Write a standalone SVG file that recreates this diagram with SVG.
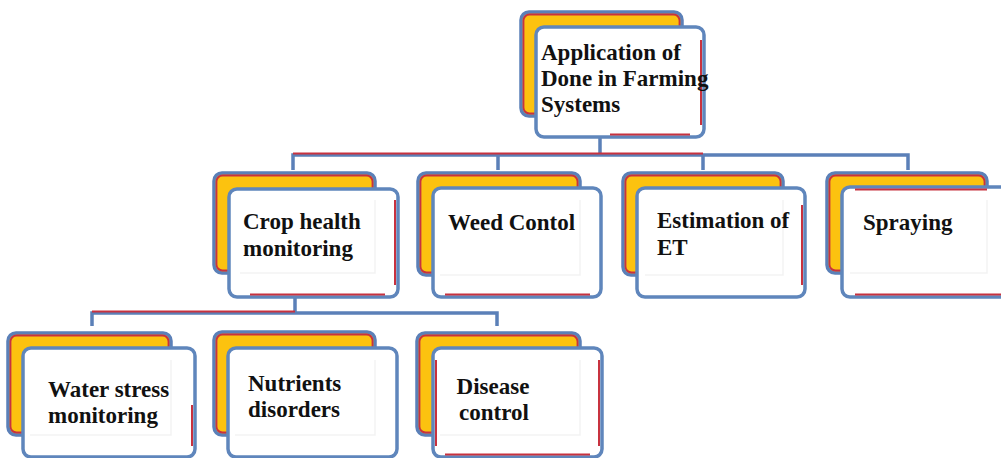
<svg xmlns="http://www.w3.org/2000/svg" width="1001" height="458" viewBox="0 0 1001 458">
  <style>
    .back{fill:#FCC20F;stroke:#5B80B8;stroke-width:3.5}
    .backin{fill:none;stroke:#C8323F;stroke-width:1.8}
    .front{fill:#fff;stroke:#5F86BC;stroke-width:3.5}
    .shade{fill:none;stroke:#F3F3F3;stroke-width:1.5}
    .acc{fill:none;stroke:#C8323F;stroke-width:2}
    .lbl{font-family:"Liberation Serif","Times New Roman",serif;font-weight:bold;font-size:23px;fill:#111}
    .wire{fill:none;stroke:#5B80B8;stroke-width:3.5}
    .wire-red{fill:none;stroke:#C8323F;stroke-width:2}
  </style>
  <rect width="1001" height="458" fill="#fff"/>

  <!-- connectors -->
  <g id="connectors">
    <path class="wire" d="M600 137 V155 M293 170 V155 H908 V170 M498 155 V170 M703 155 V170"/>
    <path class="wire-red" d="M293 153.5 H703"/>
    <path class="wire" d="M295 297 V313 M92 326 V313 H497 V326"/>
    <path class="wire-red" d="M92 311.5 H295"/>
  </g>

  <!-- root -->
  <g id="node-root">
    <rect class="back" x="521" y="12" width="161" height="104" rx="8"/>
    <rect class="backin" x="523.5" y="14.5" width="156" height="99" rx="6"/>
    <rect class="front" x="536" y="27" width="168" height="110" rx="8"/>
    <path class="acc" d="M701 40 V125 M610 134.5 H690"/>
    <text class="lbl" x="541" y="60">Application of</text>
    <text class="lbl" x="541" y="86">Done in Farming</text>
    <text class="lbl" x="541" y="112">Systems</text>
  </g>

  <!-- second level -->
  <g id="node-crop">
    <rect class="back" x="214" y="173" width="161" height="100" rx="8"/>
    <rect class="backin" x="216.5" y="175.5" width="156" height="95" rx="6"/>
    <rect class="front" x="229" y="189" width="169" height="108" rx="8"/>
    <path class="shade" d="M240 273 H375 V200"/>
    <path class="acc" d="M395 200 V285 M250 294.5 H385"/>
    <text class="lbl" x="243" y="229">Crop health</text>
    <text class="lbl" x="243" y="256">monitoring</text>
  </g>

  <g id="node-weed">
    <rect class="back" x="418" y="173" width="162" height="102" rx="8"/>
    <rect class="backin" x="420.5" y="175.5" width="157" height="97" rx="6"/>
    <rect class="front" x="433" y="188" width="168" height="109" rx="8"/>
    <path class="shade" d="M440 275 H580 V200"/>
    <path class="acc" d="M445 294.5 H590"/>
    <text class="lbl" x="448" y="230">Weed Contol</text>
  </g>

  <g id="node-et">
    <rect class="back" x="623" y="173" width="160" height="102" rx="8"/>
    <rect class="backin" x="625.5" y="175.5" width="155" height="97" rx="6"/>
    <rect class="front" x="637" y="188" width="168" height="109" rx="8"/>
    <path class="shade" d="M645 275 H783 V200"/>
    <path class="acc" d="M802 205 V285"/>
    <text class="lbl" x="657" y="228">Estimation of</text>
    <text class="lbl" x="657" y="255">ET</text>
  </g>

  <g id="node-spray">
    <rect class="back" x="827" y="173" width="160" height="100" rx="8"/>
    <rect class="backin" x="829.5" y="175.5" width="155" height="95" rx="6"/>
    <rect class="front" x="842" y="187" width="170" height="110" rx="8"/>
    <path class="shade" d="M850 273 H987 V200"/>
    <path class="acc" d="M855 189.5 H987 M855 294.5 H1001"/>
    <text class="lbl" x="863" y="230">Spraying</text>
  </g>

  <!-- third level -->
  <g id="node-water">
    <rect class="back" x="8" y="333" width="163" height="102" rx="8"/>
    <rect class="backin" x="10.5" y="335.5" width="158" height="97" rx="6"/>
    <rect class="front" x="23" y="348" width="172" height="109" rx="8"/>
    <path class="shade" d="M30 435 H171 V360"/>
    <path class="acc" d="M192 405 V446"/>
    <text class="lbl" x="48" y="397">Water stress</text>
    <text class="lbl" x="48" y="423">monitoring</text>
  </g>

  <g id="node-nutrients">
    <rect class="back" x="214" y="332" width="161" height="103" rx="8"/>
    <rect class="backin" x="216.5" y="334.5" width="156" height="98" rx="6"/>
    <rect class="front" x="228" y="348" width="169" height="109" rx="8"/>
    <path class="shade" d="M235 435 H375 V360"/>
    <text class="lbl" x="248" y="391">Nutrients</text>
    <text class="lbl" x="248" y="417">disorders</text>
  </g>

  <g id="node-disease">
    <rect class="back" x="417" y="333" width="163" height="102" rx="8"/>
    <rect class="backin" x="419.5" y="335.5" width="158" height="97" rx="6"/>
    <rect class="front" x="433" y="348" width="169" height="109" rx="8"/>
    <path class="shade" d="M440 435 H580 V360"/>
    <path class="acc" d="M436 360 V446 M599 360 V446 M445 454.5 H590"/>
    <text class="lbl" x="493" y="394" text-anchor="middle">Disease</text>
    <text class="lbl" x="494" y="420" text-anchor="middle">control</text>
  </g>
</svg>
